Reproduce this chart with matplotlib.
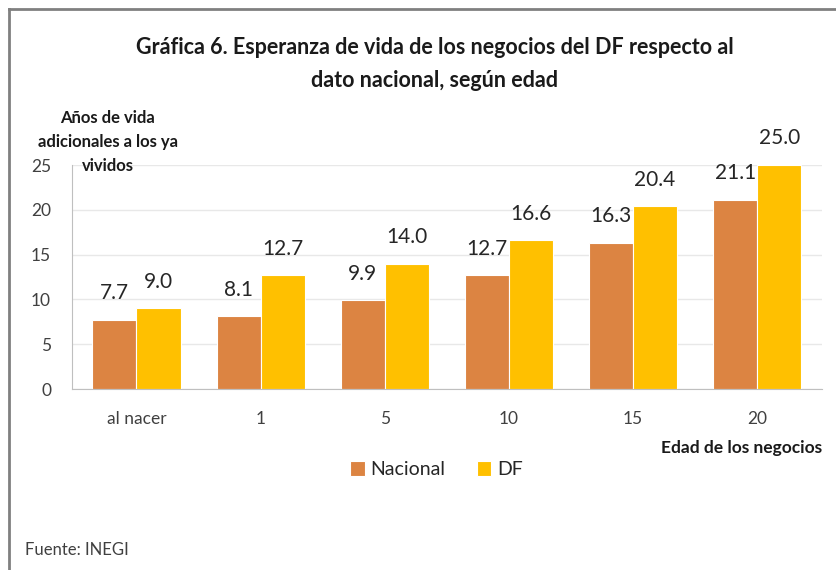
import numpy as np
import matplotlib
matplotlib.use("Agg")
import matplotlib.pyplot as plt

plt.rcParams['font.family'] = ['Lato', 'DejaVu Sans']

# datos
categorias = ['al nacer', '1', '5', '10', '15', '20']
nacional = [7.7, 8.1, 9.9, 12.7, 16.3, 21.1]
df_vals = [9.0, 12.7, 14.0, 16.6, 20.4, 25.0]
series = ['Nacional', 'DF']
colores = ['#DC8442', '#FFC000']
ylabel_lineas = ['Años de vida', 'adicionales a los ya', 'vividos']

fig = plt.figure(figsize=(8.36, 5.70), dpi=100)
ax = fig.add_axes([0.086, 0.3175, 0.897, 0.393])

x = np.arange(len(categorias))
w = 0.355
b1 = ax.bar(x - w / 2, nacional, w, color=colores[0], edgecolor='white', linewidth=0.8, label=series[0])
b2 = ax.bar(x + w / 2, df_vals, w, color=colores[1], edgecolor='white', linewidth=0.8, label=series[1])

for barras in (b1, b2):
    ax.bar_label(barras, fmt='%.1f', padding=12, fontsize=15, color='#262626')

ax.set_xlim(-0.52, len(categorias) - 0.48)
ax.set_ylim(0, 25)
ax.set_yticks([0, 5, 10, 15, 20, 25])
ax.set_xticks(x)
ax.set_xticklabels(categorias)
ax.tick_params(axis='both', length=0, labelsize=12.5, colors='#404040')
ax.tick_params(axis='x', pad=16)
ax.tick_params(axis='y', pad=15)
ax.grid(axis='y', color='#E8E8E8', linewidth=1)
ax.set_axisbelow(True)
for s in ['top', 'right']:
    ax.spines[s].set_visible(False)
ax.spines['left'].set_color('#BFBFBF')
ax.spines['bottom'].set_color('#BFBFBF')

# textos
fig.text(0.52, 0.917, 'Gráfica 6. Esperanza de vida de los negocios del DF respecto al',
         ha='center', va='center', fontsize=15.5, fontweight='bold', color='#1a1a1a')
fig.text(0.52, 0.859, 'dato nacional, según edad',
         ha='center', va='center', fontsize=15.5, fontweight='bold', color='#1a1a1a')
# etiqueta del eje y, una linea por texto
for i, linea in enumerate(ylabel_lineas):
    fig.text(0.129, 0.793 - i * 0.042, linea, ha='center', va='center',
             fontsize=12, fontweight='bold', color='#1a1a1a')
fig.text(0.983, 0.214, 'Edad de los negocios', ha='right', va='center',
         fontsize=12.5, fontweight='bold', color='#1a1a1a')
fig.text(0.03, 0.035, 'Fuente: INEGI', ha='left', va='center', fontsize=12, color='#404040')

fig.legend(loc='center', bbox_to_anchor=(0.522, 0.176), ncol=2, frameon=False,
           fontsize=14, handlelength=0.75, handleheight=0.75, handletextpad=0.3,
           columnspacing=1.6, labelcolor='#262626')

# marco
fig.add_artist(plt.Line2D([0.011, 0.011], [0, 0.985], color='#808080', linewidth=2, transform=fig.transFigure))
fig.add_artist(plt.Line2D([0.011, 1.0], [0.985, 0.985], color='#808080', linewidth=2, transform=fig.transFigure))

fig.savefig('out.png', dpi=100)
